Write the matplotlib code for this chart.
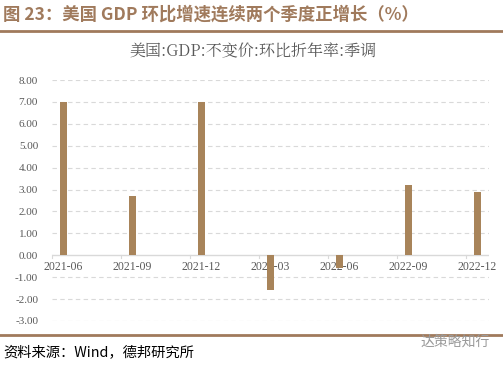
import numpy as np
import matplotlib.pyplot as plt

plt.rcParams['font.family'] = ['Noto Sans CJK SC', 'DejaVu Sans']

quarters = ['2021-06', '2021-09', '2021-12', '2022-03', '2022-06', '2022-09', '2022-12']
gdp_qoq = [7.0, 2.7, 7.0, -1.6, -0.6, 3.2, 2.9]
yticks = [-3, -2, -1, 0, 1, 2, 3, 4, 5, 6, 7, 8]

brown = '#a8845a'
grey = '#595959'

fig = plt.figure(figsize=(5.03, 3.65), dpi=100)
W, H = 503, 365
ax = fig.add_axes([52 / W, 1 - 321 / H, (489 - 52) / W, (321 - 80) / H])

# months on a date-like axis: one quarter = 3 months
x = np.arange(len(quarters)) * 3
ax.bar(x, gdp_qoq, width=0.27, color=brown, zorder=3)

ax.set_xlim(-0.5, 18.5)
ax.set_ylim(-3, 8)
ax.set_yticks(yticks)
ax.set_yticklabels(['%.2f' % v for v in yticks], fontfamily='Liberation Serif',
                   fontsize=8, color=grey)
ax.tick_params(axis='y', length=0, pad=10)
for v in yticks:
    if v != 0:
        ax.axhline(v, color='#d9d9d9', lw=0.8, ls=(0, (4, 3)), zorder=1)

ax.set_xticks([])
ax.axhline(0, color='#d9d9d9', lw=1.0, zorder=2)
for t in np.arange(-0.5, 18, 3):
    ax.plot([t, t], [0, -0.12], color='#d9d9d9', lw=0.8, clip_on=False, zorder=2)
for xi, lab in zip(x, quarters):
    ax.text(xi, -0.25, lab, ha='center', va='top', fontsize=8.5, color=grey,
            fontfamily='Liberation Serif', zorder=1)

for s in ax.spines.values():
    s.set_visible(False)

fig.text(253 / W, 1 - 51 / H, '美国:GDP:不变价:环比折年率:季调', fontsize=11.5, color=grey,
         fontfamily=['Noto Serif CJK SC', 'Noto Sans CJK SC'], ha='center', va='center')

fig.text(3 / W, 1 - 15 / H, '图 23：美国 GDP 环比增速连续两个季度正增长（%）',
         fontsize=12.5, fontweight='bold', color='#a07a5c', va='center')
fig.add_artist(plt.Line2D([0, 1], [1 - 31 / H, 1 - 31 / H], color='#a07a5c', lw=2))
fig.add_artist(plt.Line2D([0, 1], [1 - 335 / H, 1 - 335 / H], color='#a07a5c', lw=2))
fig.text(3 / W, 1 - 352 / H, '资料来源：Wind，德邦研究所', fontsize=10.3, color='black', va='center')
fig.text(490 / W, 1 - 342 / H, '达策略知行', fontsize=10, color='#9a9a9a', va='center', ha='right')

fig.savefig('out.png', dpi=100)
